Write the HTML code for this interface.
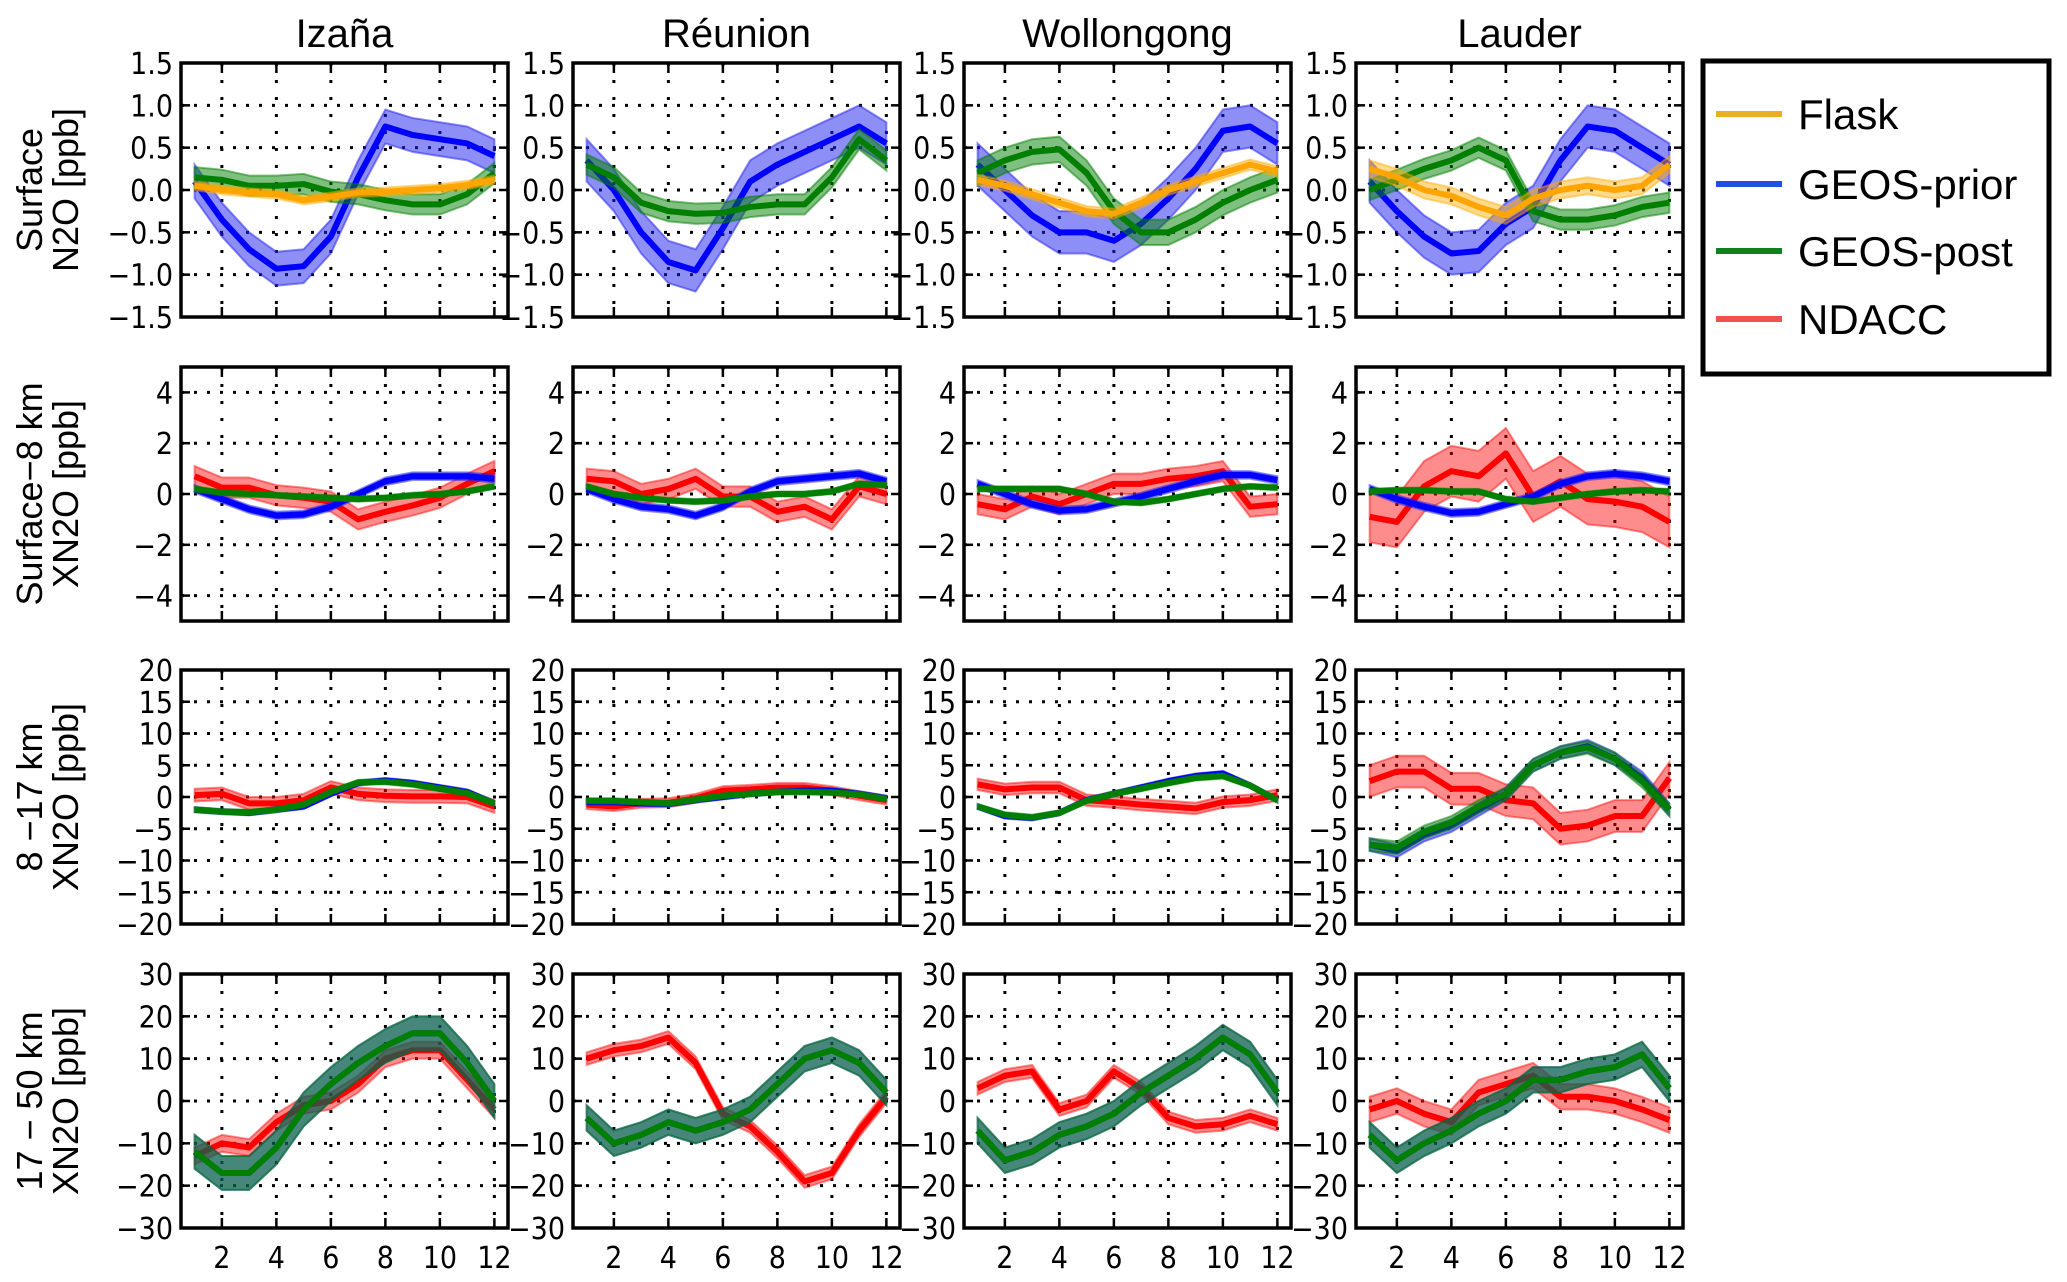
<!DOCTYPE html>
<html><head><meta charset="utf-8"><style>
html,body{margin:0;padding:0;background:#fff;width:2067px;height:1282px;overflow:hidden}
svg text{font-family:"Liberation Sans","DejaVu Sans",sans-serif;fill:#000}
svg text.tick{font-family:"DejaVu Sans Condensed","DejaVu Sans","Liberation Sans",sans-serif}
</style></head><body>
<svg id="chart" xmlns="http://www.w3.org/2000/svg" width="2067" height="1282" viewBox="0 0 2067 1282"></svg>
<script>
const months=[1,2,3,4,5,6,7,8,9,10,11,12];
const stations=["Izaña","Réunion","Wollongong","Lauder"];
const rowLabels=[["Surface","N2O [ppb]"],["Surface\u22128 km","XN2O [ppb]"],["8 \u221217 km","XN2O [ppb]"],["17 \u2212 50 km","XN2O [ppb]"]];
const rowLimits=[1.5,5,20,30];
const rowTicks=[[1.5,1.0,0.5,0.0,-0.5,-1.0,-1.5],[4,2,0,-2,-4],[20,15,10,5,0,-5,-10,-15,-20],[30,20,10,0,-10,-20,-30]];
const rowTickLabels=[["1.5","1.0","0.5","0.0","\u22120.5","\u22121.0","\u22121.5"],["4","2","0","\u22122","\u22124"],["20","15","10","5","0","\u22125","\u221210","\u221215","\u221220"],["30","20","10","0","\u221210","\u221220","\u221230"]];
const xTicks=[2,4,6,8,10,12];
// Row 1: surface N2O
const r1_flask=[[0.05,0.0,-0.03,-0.05,-0.12,-0.08,-0.03,-0.02,0.0,0.02,0.06,0.12],null,[0.12,0.05,-0.05,-0.15,-0.25,-0.28,-0.15,0.0,0.1,0.2,0.3,0.22],[0.25,0.15,0.0,-0.07,-0.2,-0.3,-0.1,0.0,0.05,0.0,0.05,0.3]];
const r1_prior=[[0.1,-0.35,-0.7,-0.93,-0.9,-0.55,0.15,0.75,0.65,0.6,0.55,0.4],[0.35,0.0,-0.5,-0.85,-0.95,-0.45,0.1,0.3,0.45,0.6,0.75,0.55],[0.3,0.0,-0.3,-0.5,-0.5,-0.6,-0.4,-0.1,0.25,0.7,0.75,0.55],[0.1,-0.25,-0.55,-0.75,-0.72,-0.4,-0.2,0.35,0.75,0.7,0.5,0.3]];
const r1_post=[[0.15,0.12,0.05,0.05,0.07,-0.02,-0.05,-0.12,-0.17,-0.17,-0.05,0.2],[0.3,0.15,-0.15,-0.25,-0.28,-0.27,-0.2,-0.17,-0.17,0.15,0.6,0.35],[0.2,0.35,0.45,0.48,0.2,-0.25,-0.5,-0.5,-0.35,-0.15,0.0,0.12],[0.0,0.12,0.25,0.35,0.5,0.35,-0.25,-0.35,-0.35,-0.3,-0.2,-0.15]];
// Row 2: surface-8 km
const r2_ndacc=[[0.7,0.25,0.25,-0.05,-0.15,-0.3,-1.0,-0.7,-0.45,-0.15,0.4,0.9],[0.6,0.5,0.0,0.2,0.6,-0.1,-0.1,-0.7,-0.5,-1.0,0.3,0.0],[-0.4,-0.6,-0.1,-0.4,0.0,0.4,0.4,0.6,0.7,0.9,-0.5,-0.4],[-0.9,-1.1,0.3,0.9,0.7,1.6,-0.1,0.5,-0.2,-0.3,-0.5,-1.1]];
const r2_prior=[[0.2,-0.2,-0.6,-0.85,-0.8,-0.5,0.0,0.5,0.7,0.7,0.7,0.6],[0.2,-0.2,-0.5,-0.6,-0.85,-0.5,0.1,0.5,0.6,0.7,0.8,0.5],[0.4,0.0,-0.4,-0.65,-0.6,-0.35,-0.1,0.2,0.5,0.75,0.75,0.55],[0.2,-0.2,-0.5,-0.75,-0.7,-0.4,-0.1,0.4,0.7,0.8,0.7,0.5]];
const r2_post=[[0.2,0.05,0.0,-0.05,-0.1,-0.15,-0.2,-0.15,-0.05,0.0,0.1,0.3],[0.3,0.0,-0.15,-0.25,-0.3,-0.25,-0.1,0.0,0.0,0.1,0.4,0.35],[0.2,0.2,0.2,0.2,0.0,-0.3,-0.35,-0.2,0.0,0.2,0.3,0.25],[0.1,0.15,0.15,0.1,0.1,-0.2,-0.3,-0.15,0.0,0.1,0.15,0.1]];
// Row 3: 8-17 km
const r3_ndacc=[[0.3,0.5,-1,-1,-0.5,1.5,0.5,0.2,0.1,0.1,0.0,-1.5],[-1.2,-1.5,-1,-0.9,-0.2,1,1.2,1.5,1.5,1,0.2,-0.5],[2,1.2,1.5,1.5,-0.5,-0.8,-1.2,-1.5,-1.8,-0.8,-0.5,0.3],[2.5,4,4,1.3,1.3,-0.5,-1,-5,-4.5,-3,-3,3]];
const r3_prior=[[-2,-2.3,-2.5,-2,-1.5,0.5,2.2,2.6,2.2,1.5,0.8,-1],[-0.8,-0.8,-1,-1.1,-0.5,0,0.5,0.8,1,1,0.5,-0.2],[-1.5,-3,-3.3,-2.5,-0.5,0.5,1.5,2.5,3.3,3.7,1.8,-0.5],[-7.5,-8.5,-6,-4.5,-2,0.5,5,7,8,6,3,-2]];
const r3_post=[[-2,-2.3,-2.4,-2,-1.2,0.8,2.3,2.4,2.0,1.3,0.6,-1],[-0.6,-0.6,-0.8,-1,-0.4,0.2,0.5,0.8,0.8,0.7,0.4,-0.3],[-1.5,-2.8,-3.2,-2.5,-0.6,0.5,1.3,2.2,3,3.3,1.8,-0.5],[-7.5,-8,-5.5,-4,-1.5,0.5,5,7,7.8,6,2.5,-2]];
// Row 4: 17-50 km
const r4_ndacc=[[-13,-10,-11,-5,-1,0,4,10,12,12,5,-2],[10,12,13,15,9,-3,-6,-12,-19,-17,-7,1],[3,6,7,-2,0,7,3,-4,-6,-5.5,-3.5,-5.5],[-2,0,-3,-5,2,4,6,1,1,0,-2,-4.5]];
const r4_prior=[[-12,-17,-17,-11,-2,4,9,13,16,16,9,0],[-4,-10,-8,-5,-7,-5,-2,4,10,12,9,2],[-7,-14,-12,-8,-6,-3,2,6,10,15,11,2],[-8,-14,-10,-7,-3,0,5,5,7,8,11,3]];
const r4_post=[[-12,-17,-17,-11,-2,4,9,13,16,16,9,0],[-4,-10,-8,-5,-7,-5,-2,4,10,12,9,2],[-7,-14,-12,-8,-6,-3,2,6,10,15,11,2],[-8,-14,-10,-7,-3,0,5,5,7,8,11,3]];
// spreads (band half-widths) per row & station
const spreadObs=[[0.05,0,0.06,0.1],[0.4,0.4,0.4,1.0],[1,0.7,0.9,2.5],[2,1.5,1.5,3]];
const spreadPrior=[[0.2,0.25,0.25,0.25],[0.15,0.15,0.15,0.15],[0.4,0.4,0.4,1],[4,3,3,3]];
const spreadPost=[[0.12,0.12,0.15,0.12],[0.1,0.1,0.1,0.1],[0.4,0.4,0.4,1],[4,3,3,3]];

const rowObs=[r1_flask,r2_ndacc,r3_ndacc,r4_ndacc];
const rowPrior=[r1_prior,r2_prior,r3_prior,r4_prior];
const rowPost=[r1_post,r2_post,r3_post,r4_post];

const NS="http://www.w3.org/2000/svg";
const svg=document.getElementById('chart');
function mk(tag,attrs,parent){const e=document.createElementNS(NS,tag);for(const k in attrs)e.setAttribute(k,attrs[k]);(parent||svg).appendChild(e);return e;}
const colLeft=[181,573,964,1356], PW=327, rowTop=[63,367,670,974], PH=254;

for(let r=0;r<4;r++){
  const cy=rowTop[r]+PH/2;
  const yl=mk('text',{x:0,y:0,'font-size':36,'text-anchor':'middle',transform:`translate(42,${cy}) rotate(-90)`});
  
  
  yl.textContent=rowLabels[r][0];
  const yl2=mk('text',{x:0,y:0,'font-size':36,'text-anchor':'middle',transform:`translate(78,${cy}) rotate(-90)`});
  
  
  yl2.textContent=rowLabels[r][1];
  for(let c=0;c<4;c++){
    const L=colLeft[c],T=rowTop[r],lim=rowLimits[r];
    const xs=m=>L+(m-0.5)/12*PW;
    const ys=v=>T+(lim-v)/(2*lim)*PH;
    const g=mk('g',{});
    
    
    const cid=`clip${r}${c}`;
    const cp=mk('clipPath',{id:cid},g); mk('rect',{x:L,y:T,width:PW,height:PH},cp);
    rowTicks[r].forEach(v=>{if(Math.abs(v)<lim){const gl=mk('line',{x1:L,x2:L+PW,y1:ys(v),y2:ys(v),stroke:'#000','stroke-width':3,'stroke-dasharray':'3 10'},g);}});
    xTicks.forEach(m=>{const gl=mk('line',{x1:xs(m),x2:xs(m),y1:T,y2:T+PH,stroke:'#000','stroke-width':3,'stroke-dasharray':'3 14'},g);});
    const series=[
      {d:rowPrior[r][c],s:spreadPrior[r][c],line:'#0000ff',band:'rgba(30,30,240,0.5)',n:'geos-prior'},
      {d:rowPost[r][c],s:spreadPost[r][c],line:'#007f00',band:'rgba(0,128,0,0.5)',n:'geos-post'},
      {d:rowObs[r][c],s:spreadObs[r][c],line:r==0?'#ffa500':'#ff0000',band:r==0?'rgba(255,170,0,0.45)':'rgba(255,0,0,0.45)',n:r==0?'flask':'ndacc'}
    ];
    if(r>0){series.unshift(series.pop());}
    series.forEach(sr=>{
      if(!sr.d)return;
      const up=sr.d.map((v,i)=>`${xs(months[i])},${ys(v+sr.s)}`);
      const lo=sr.d.map((v,i)=>`${xs(months[i])},${ys(v-sr.s)}`).reverse();
      const band=mk('polygon',{points:up.concat(lo).join(' '),fill:sr.band,stroke:sr.band,'stroke-width':2,'clip-path':`url(#${cid})`},g);
      
      
      const ln=mk('polyline',{points:sr.d.map((v,i)=>`${xs(months[i])},${ys(v)}`).join(' '),fill:'none',stroke:sr.line,'stroke-width':6,'stroke-linejoin':'round','clip-path':`url(#${cid})`},g);
      
      
    });
    rowTicks[r].forEach((v,i)=>{
      mk('line',{x1:L,x2:L+9,y1:ys(v),y2:ys(v),stroke:'#000','stroke-width':2.5},g);
      mk('line',{x1:L+PW-9,x2:L+PW,y1:ys(v),y2:ys(v),stroke:'#000','stroke-width':2.5},g);
      const t=mk('text',{x:L-8,y:ys(v)+11,'font-size':30,'text-anchor':'end','class':'tick'},g);
      
      
      t.textContent=rowTickLabels[r][i];
    });
    xTicks.forEach(m=>{
      mk('line',{x1:xs(m),x2:xs(m),y1:T,y2:T+10,stroke:'#000','stroke-width':2.5},g);
      mk('line',{x1:xs(m),x2:xs(m),y1:T+PH-10,y2:T+PH,stroke:'#000','stroke-width':2.5},g);
      if(r==3){const t=mk('text',{x:xs(m),y:T+PH+40,'font-size':30,'text-anchor':'middle','class':'tick'},g);
        
        
        t.textContent=m;}
    });
    const fr=mk('rect',{x:L,y:T,width:PW,height:PH,fill:'none',stroke:'#000','stroke-width':3.5},g);
    
    
    if(r==0){const tt=mk('text',{x:L+PW/2,y:47,'font-size':40,'text-anchor':'middle'},g);
      
      
      tt.textContent=stations[c];}
  }
}
const legNames=["Flask","GEOS-prior","GEOS-post","NDACC"];
const legColors=["#e8b020","#2050e0","#108020","#f05050"];
const lg=mk('g',{});


mk('rect',{x:1703,y:61,width:346,height:313,fill:'#fff',stroke:'#000','stroke-width':5},lg);
const legY=[114,184,251,319];
legNames.forEach((n,i)=>{
  const e=mk('g',{},lg);
  
  
  mk('line',{x1:1716,x2:1782,y1:legY[i],y2:legY[i],stroke:legColors[i],'stroke-width':6},e);
  const t=mk('text',{x:1798,y:legY[i]+15,'font-size':42},e);
  t.textContent=n;
});
</script>
</body></html>
